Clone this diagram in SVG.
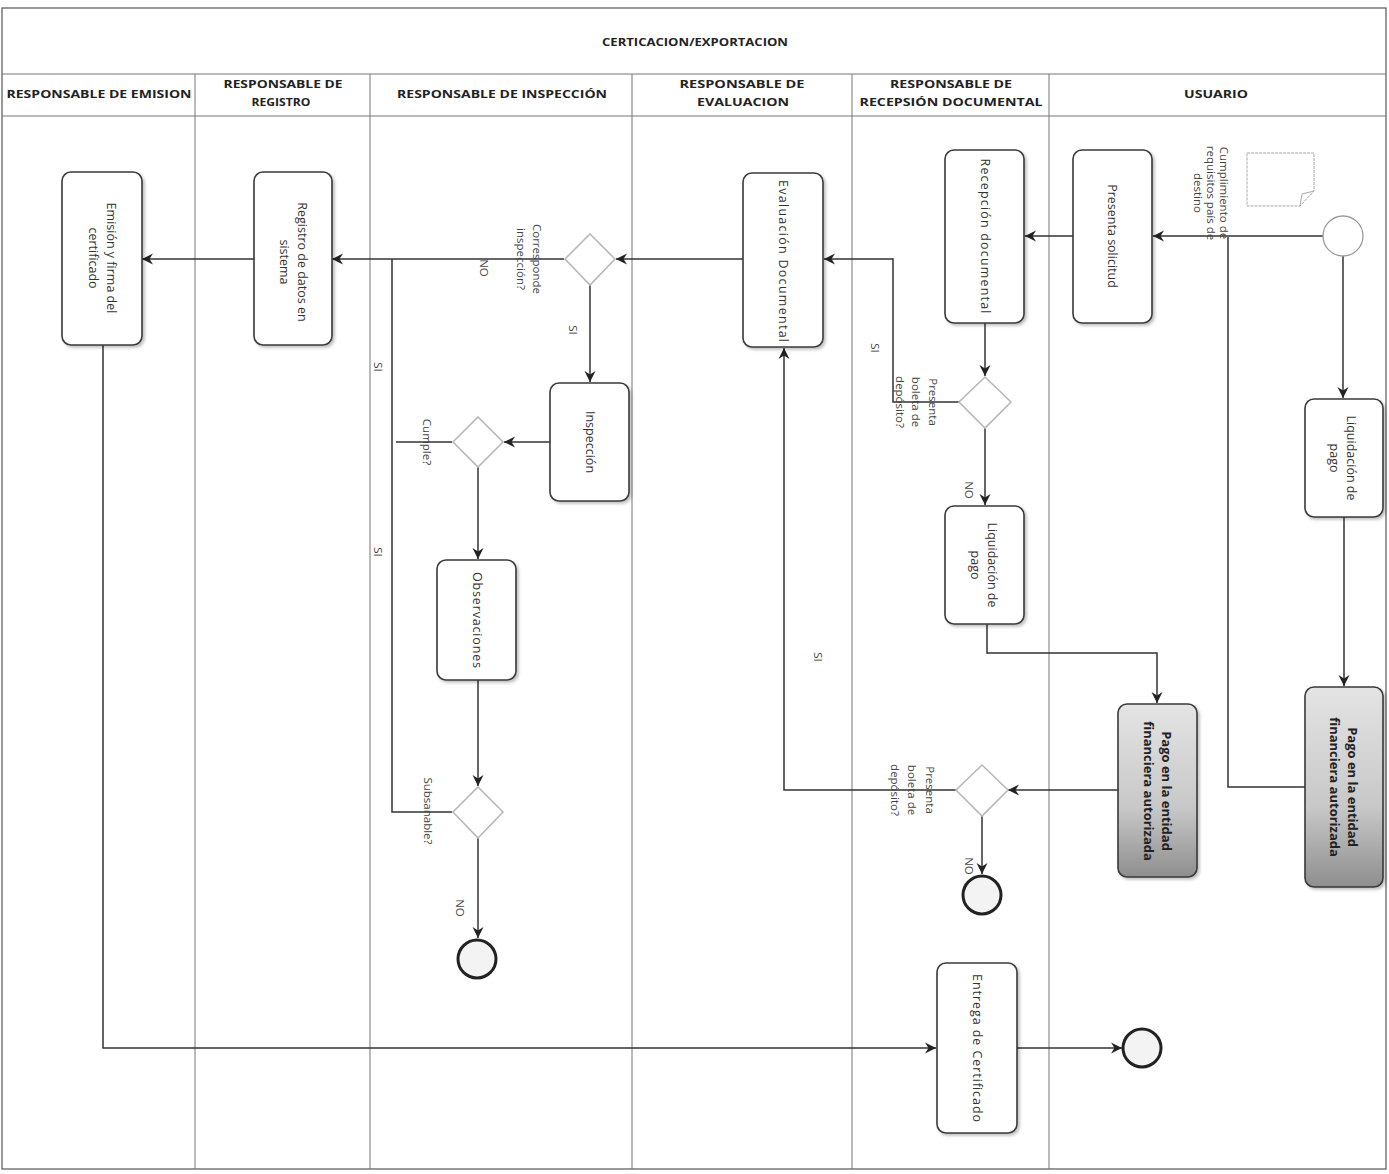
<svg xmlns="http://www.w3.org/2000/svg" width="1389" height="1174" viewBox="0 0 1389 1174">
<style>
.frame{fill:none;stroke:#555;stroke-width:1.2}
.lane{fill:none;stroke:#777;stroke-width:1}
.hdr{font-family:"Open Sans","Liberation Sans",sans-serif;font-weight:bold;font-size:11px;fill:#222;text-anchor:middle}
.task{fill:#fff;stroke:#3a3a3a;stroke-width:1.6;filter:url(#sh)}
.taskg{fill:url(#gr);stroke:#3a3a3a;stroke-width:1.6;filter:url(#sh)}
.tt{font-family:"Open Sans","Liberation Sans",sans-serif;font-size:12.5px;fill:#333;text-anchor:middle;dominant-baseline:central}
.tb{font-family:"Open Sans","Liberation Sans",sans-serif;font-size:13px;font-weight:bold;fill:#222;text-anchor:middle;dominant-baseline:central}
.gw{fill:#fff;stroke:#b8b8b8;stroke-width:1.6}
.lbl{font-family:"Open Sans","Liberation Sans",sans-serif;font-size:11.5px;fill:#444;text-anchor:middle;dominant-baseline:central}
.end{fill:#f3f3f3;stroke:#222;stroke-width:3}
.start{fill:#fff;stroke:#999;stroke-width:1.3}
.c{fill:none;stroke:#333;stroke-width:1.5}
.ca{fill:none;stroke:#333;stroke-width:1.5;marker-end:url(#ah)}
</style>
<defs>
<marker id="ah" markerUnits="userSpaceOnUse" markerWidth="12" markerHeight="12" refX="11" refY="6" orient="auto">
<path d="M0,0.5 L11,6 L0,11.5 L3.5,6 Z" fill="#222"/>
</marker>
<linearGradient id="gr" x1="0" y1="0" x2="0" y2="1">
<stop offset="0" stop-color="#e4e4e4"/>
<stop offset="0.6" stop-color="#c8c8c8"/>
<stop offset="1" stop-color="#8e8e8e"/>
</linearGradient>
<filter id="sh" x="-20%" y="-20%" width="140%" height="140%">
<feDropShadow dx="2" dy="2" stdDeviation="1.5" flood-color="#000" flood-opacity="0.25"/>
</filter>
</defs>
<rect width="1389" height="1174" fill="#fff"/>
<g id="pool">
<rect class="frame" x="2" y="8" width="1384" height="1161"/>
<line class="lane" x1="2" y1="74" x2="1386" y2="74"/>
<line class="lane" x1="2" y1="116" x2="1386" y2="116"/>
<line class="lane" x1="195" y1="74" x2="195" y2="1169"/>
<line class="lane" x1="370" y1="74" x2="370" y2="1169"/>
<line class="lane" x1="632" y1="74" x2="632" y2="1169"/>
<line class="lane" x1="852" y1="74" x2="852" y2="1169"/>
<line class="lane" x1="1049" y1="74" x2="1049" y2="1169"/>
<text class="hdr" x="695" y="46" textLength="186" lengthAdjust="spacingAndGlyphs">CERTICACION/EXPORTACION</text>
<text class="hdr" x="99" y="98" textLength="185" lengthAdjust="spacingAndGlyphs">RESPONSABLE DE EMISION</text>
<text class="hdr" x="283" y="88" textLength="119" lengthAdjust="spacingAndGlyphs">RESPONSABLE DE</text>
<text class="hdr" x="281" y="106" textLength="59" lengthAdjust="spacingAndGlyphs">REGISTRO</text>
<text class="hdr" x="502" y="98" textLength="210" lengthAdjust="spacingAndGlyphs">RESPONSABLE DE INSPECCIÓN</text>
<text class="hdr" x="742" y="88" textLength="125" lengthAdjust="spacingAndGlyphs">RESPONSABLE DE</text>
<text class="hdr" x="743" y="106" textLength="92" lengthAdjust="spacingAndGlyphs">EVALUACION</text>
<text class="hdr" x="951" y="88" textLength="122" lengthAdjust="spacingAndGlyphs">RESPONSABLE DE</text>
<text class="hdr" x="951" y="106" textLength="183" lengthAdjust="spacingAndGlyphs">RECEPSIÓN DOCUMENTAL</text>
<text class="hdr" x="1216" y="98" textLength="64" lengthAdjust="spacingAndGlyphs">USUARIO</text>
</g>
<g id="connectors">
<path class="ca" d="M1323,236 H1153"/>
<path class="ca" d="M1343,256 V398"/>
<path class="ca" d="M1344,517 V686"/>
<path class="c" d="M1305,787 H1228 V237"/>
<path class="ca" d="M1073,236 H1025"/>
<path class="ca" d="M985,323 V376"/>
<path class="ca" d="M959,402 H893 V259 H824"/>
<path class="ca" d="M985,428 V505"/>
<path class="ca" d="M987,624 V653 H1157 V703"/>
<path class="ca" d="M1118,790 H1008"/>
<path class="ca" d="M956,790 H784 V348"/>
<path class="ca" d="M982,816 V874"/>
<path class="ca" d="M743,259 H616"/>
<path class="ca" d="M564,259 H332"/>
<path class="ca" d="M590,285 V382"/>
<path class="ca" d="M550,442 H504"/>
<path class="c" d="M452,442 H396"/>
<path class="c" d="M452,812 H392 V259"/>
<path class="ca" d="M478,467 V559"/>
<path class="ca" d="M478,680 V786"/>
<path class="ca" d="M478,838 V938"/>
<path class="ca" d="M254,259 H142"/>
<path class="ca" d="M103,345 V1048 H936"/>
<path class="ca" d="M1017,1048 H1122"/>
<text class="lbl" transform="translate(484,268) rotate(90)">NO</text>
<text class="lbl" transform="translate(573,330) rotate(90)">SI</text>
<text class="lbl" transform="translate(378,367) rotate(90)">SI</text>
<text class="lbl" transform="translate(378,552) rotate(90)">SI</text>
<text class="lbl" transform="translate(460,908) rotate(90)">NO</text>
<text class="lbl" transform="translate(875,348) rotate(90)">SI</text>
<text class="lbl" transform="translate(969,490) rotate(90)">NO</text>
<text class="lbl" transform="translate(818,657) rotate(90)">SI</text>
<text class="lbl" transform="translate(969,866) rotate(90)">NO</text>
</g>
<g id="start">
<circle class="start" cx="1343" cy="236" r="20"/>
</g>
<g id="doc-requisitos">
<path d="M1247,153 H1314 V191 L1300,206 H1247 Z" fill="#fff" stroke="#aaa" stroke-width="1" stroke-dasharray="3,1"/>
<path d="M1300,206 L1302,194 L1314,191" fill="none" stroke="#aaa" stroke-width="1"/>
<text class="lbl" transform="translate(1212,193) rotate(90)"><tspan x="0" y="-13">Cumplimiento de</tspan><tspan x="0" y="0">requisitos país de</tspan><tspan x="0" y="13">destino</tspan></text>
</g>
<g id="presenta-solicitud">
<rect class="task" x="1073" y="150" width="79" height="173" rx="9"/>
<text class="tt" transform="translate(1112,236) rotate(90)">Presenta solicitud</text>
</g>
<g id="recepcion-documental">
<rect class="task" x="945" y="150" width="79" height="173" rx="9"/>
<text class="tt" transform="translate(985,236) rotate(90)" textLength="155" lengthAdjust="spacing">Recepción documental</text>
</g>
<g id="gw-boleta-1">
<polygon class="gw" points="985,377 1011,402 985,428 959,402"/>
<text class="lbl" transform="translate(915,402) rotate(90)"><tspan x="0" y="-19">Presenta</tspan><tspan x="0" y="-2">boleta de</tspan><tspan x="0" y="14">depósito?</tspan></text>
</g>
<g id="liquidacion-recepcion">
<rect class="task" x="945" y="506" width="79" height="118" rx="9"/>
<text class="tt" transform="translate(985,565) rotate(90)"><tspan x="0" y="-8">Liquidación de</tspan><tspan x="0" y="9">pago</tspan></text>
</g>
<g id="pago-recepcion">
<rect class="taskg" x="1118" y="704" width="79" height="173" rx="9"/>
<text class="tb" transform="translate(1158,791) rotate(90)"><tspan x="0" y="-9">Pago en la entidad</tspan><tspan x="0" y="9">financiera autorizada</tspan></text>
</g>
<g id="gw-boleta-2">
<polygon class="gw" points="982,765 1008,790 982,816 956,790"/>
<text class="lbl" transform="translate(912,790) rotate(90)"><tspan x="0" y="-19">Presenta</tspan><tspan x="0" y="-1">boleta de</tspan><tspan x="0" y="16">depósito?</tspan></text>
</g>
<g id="end-boleta">
<circle class="end" cx="982" cy="895" r="19"/>
</g>
<g id="liquidacion-usuario">
<rect class="task" x="1305" y="399" width="78" height="118" rx="9"/>
<text class="tt" transform="translate(1344,458) rotate(90)"><tspan x="0" y="-8">Liquidación de</tspan><tspan x="0" y="9">pago</tspan></text>
</g>
<g id="pago-usuario">
<rect class="taskg" x="1305" y="687" width="78" height="200" rx="9"/>
<text class="tb" transform="translate(1344,787) rotate(90)"><tspan x="0" y="-9">Pago en la entidad</tspan><tspan x="0" y="9">financiera autorizada</tspan></text>
</g>
<g id="evaluacion-documental">
<rect class="task" x="743" y="173" width="80" height="174" rx="9"/>
<text class="tt" transform="translate(783,261) rotate(90)" textLength="162" lengthAdjust="spacing">Evaluación Documental</text>
</g>
<g id="gw-inspeccion">
<polygon class="gw" points="590,234 615,259 590,285 565,259"/>
<text class="lbl" transform="translate(530,259) rotate(90)"><tspan x="0" y="-8">Corresponde</tspan><tspan x="0" y="8">inspección?</tspan></text>
</g>
<g id="inspeccion">
<rect class="task" x="550" y="383" width="79" height="118" rx="9"/>
<text class="tt" transform="translate(590,442) rotate(90)">Inspección</text>
</g>
<g id="gw-cumple">
<polygon class="gw" points="478,417 503,442 478,467 453,442"/>
<text class="lbl" transform="translate(427,442) rotate(90)">Cumple?</text>
</g>
<g id="observaciones">
<rect class="task" x="437" y="560" width="79" height="120" rx="9"/>
<text class="tt" transform="translate(477,620) rotate(90)" textLength="96" lengthAdjust="spacing">Observaciones</text>
</g>
<g id="gw-subsanable">
<polygon class="gw" points="478,787 503,812 478,838 453,812"/>
<text class="lbl" transform="translate(428,811) rotate(90)">Subsanable?</text>
</g>
<g id="end-subsanable">
<circle class="end" cx="477" cy="959" r="19"/>
</g>
<g id="registro">
<rect class="task" x="254" y="172" width="78" height="173" rx="9"/>
<text class="tt" transform="translate(293,262) rotate(90)"><tspan x="0" y="-10">Registro de datos en</tspan><tspan x="0" y="8">sistema</tspan></text>
</g>
<g id="emision">
<rect class="task" x="62" y="172" width="80" height="173" rx="9"/>
<text class="tt" transform="translate(102,258) rotate(90)"><tspan x="0" y="-10">Emisión y firma del</tspan><tspan x="0" y="8">certificado</tspan></text>
</g>
<g id="entrega">
<rect class="task" x="937" y="963" width="80" height="170" rx="9"/>
<text class="tt" transform="translate(977,1048) rotate(90)" textLength="148" lengthAdjust="spacing">Entrega de  Certificado</text>
</g>
<g id="end-final">
<circle class="end" cx="1142" cy="1048" r="19"/>
</g>
</svg>
